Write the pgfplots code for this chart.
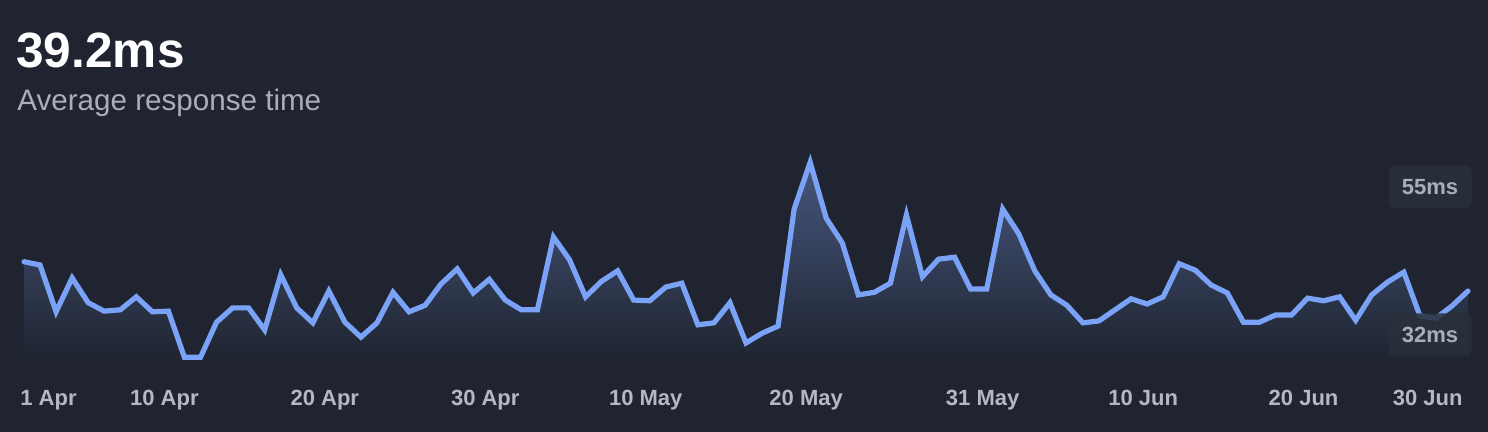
\documentclass[border=0pt]{standalone}
\usepackage{fontspec}
\setmainfont{Liberation Sans}
\usepackage{pgfplots}
\pgfplotsset{compat=1.18}
\usepackage{pgfplotstable}

\definecolor{bg}{HTML}{1F2430}
\definecolor{lineblue}{HTML}{7AA2F7}
\definecolor{filltop}{HTML}{46577E}
\definecolor{subgray}{HTML}{A9AEB8}
\definecolor{tickgray}{HTML}{B4B8C0}
\definecolor{boxfill}{HTML}{2A303B}

% daily average response time, 1 Apr .. 30 Jun (ms)
\pgfplotstableread{
day ms
0 43.5
1 43.0
2 35.8
3 41.0
4 37.2
5 35.9
6 36.1
7 38.1
8 35.8
9 35.9
10 28.8
11 28.8
12 34.2
13 36.4
14 36.4
15 33.0
16 41.5
17 36.4
18 34.1
19 39.0
20 34.2
21 31.9
22 34.1
23 38.8
24 35.8
25 36.8
26 40.1
27 42.4
28 38.7
29 40.8
30 37.6
31 36.1
32 36.1
33 47.3
34 43.8
35 38.1
36 40.5
37 42.1
38 37.6
39 37.5
40 39.6
41 40.2
42 33.8
43 34.1
44 37.2
45 31.0
46 32.5
47 33.6
48 51.6
49 58.8
50 50.2
51 46.4
52 38.4
53 38.8
54 40.2
55 50.7
56 41.2
57 43.9
58 44.2
59 39.3
60 39.3
61 51.6
62 47.8
63 42.1
64 38.4
65 36.8
66 34.1
67 34.4
68 36.1
69 37.8
70 37.0
71 38.1
72 43.2
73 42.2
74 39.9
75 38.7
76 34.2
77 34.2
78 35.3
79 35.3
80 37.9
81 37.5
82 38.1
83 34.5
84 38.4
85 40.4
86 41.9
87 35.2
88 34.8
89 36.7
90 39.0
}\latency

\begin{document}
\begin{tikzpicture}
  \fill[bg] (0,0) rectangle (744pt,216pt);
  \node[anchor=base west, inner sep=0, text=white, font=\fontsize{24.8}{28}\selectfont\bfseries]
    at (8pt,182pt) {39.2ms};
  \node[anchor=base west, inner sep=0, text=subgray, font=\fontsize{14.8}{17}\selectfont]
    at (8.5pt,160.7pt) {Average response time};

  \begin{axis}[
      at={(12pt,36pt)}, anchor=south west,
      scale only axis, width=722pt, height=105pt,
      xmin=0, xmax=90, ymin=28.385, ymax=60.692,
      axis line style={draw=none}, major tick length=0pt,
      ytick=\empty,
      xtick={9,19,29,39,49,60,70,80},
      xticklabels={10 Apr,20 Apr,30 Apr,10 May,20 May,31 May,10 Jun,20 Jun},
      xticklabel style={anchor=base, xshift=-2pt, yshift=-23pt, text=tickgray,
        font=\fontsize{11}{13}\selectfont\bfseries},
      clip=false,
    ]
    \addplot[draw=none, top color=filltop, bottom color=bg] table[x=day, y=ms] {\latency} \closedcycle;
    \addplot[lineblue, line width=2.6pt, line cap=round, line join=miter, mark=none]
      table[x=day, y=ms] {\latency};

    \node[anchor=east, xshift=2pt, fill=boxfill, fill opacity=0.85, text opacity=1,
      rounded corners=3pt, minimum width=41.5pt, minimum height=21.5pt, text=subgray,
      font=\fontsize{11}{13}\selectfont\bfseries] at (axis cs:90,55) {55ms};
    \node[anchor=east, xshift=2pt, yshift=0.8pt, fill=boxfill, fill opacity=0.85, text opacity=1,
      rounded corners=3pt, minimum width=41.5pt, minimum height=21.5pt, text=subgray,
      font=\fontsize{11}{13}\selectfont\bfseries] at (axis cs:90,32) {32ms};
  \end{axis}

  \node[anchor=base west, inner sep=0, text=tickgray, font=\fontsize{11}{13}\selectfont\bfseries]
    at (10pt,13pt) {1 Apr};
  \node[anchor=base east, inner sep=0, text=tickgray, font=\fontsize{11}{13}\selectfont\bfseries]
    at (731.5pt,13pt) {30 Jun};
\end{tikzpicture}
\end{document}
